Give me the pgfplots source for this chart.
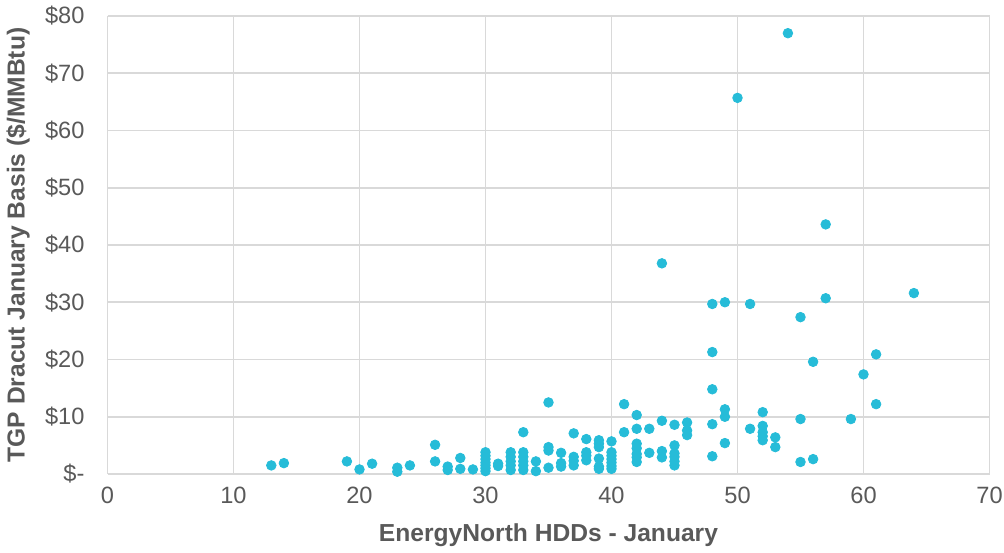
\documentclass[border=0pt]{standalone}
\usepackage{pgfplots}
\pgfplotsset{compat=1.18}
\usepackage{fontspec}
\setmainfont{Liberation Sans}
\definecolor{txtgray}{RGB}{89,89,89}
\definecolor{gridgray}{RGB}{217,217,217}
\definecolor{dotcol}{RGB}{38,188,216}
\begin{document}
\begin{tikzpicture}
\useasboundingbox (-53.75pt,-39pt) rectangle (448.25pt,237pt);
\begin{axis}[
	at={(0,0)}, anchor=south west,
	scale only axis,
	width=441pt, height=229pt,
	xmin=0, xmax=70,
	ymin=0, ymax=80,
	xtick={0,10,...,70},
	ytick={0,10,...,80},
	yticklabels={\$-,\$10,\$20,\$30,\$40,\$50,\$60,\$70,\$80},
	grid=major,
	major grid style={gridgray, line width=0.8pt},
	axis line style={draw=none},
	major tick length=0pt,
	/pgf/number format/assume math mode=true,
	ticklabel style={font=\fontsize{11.8}{13}\selectfont, text=txtgray},
	yticklabel shift=8pt,
	xticklabel shift=3pt,
	xlabel={EnergyNorth HDDs - January},
	ylabel={TGP Dracut January Basis (\$/MMBtu)},
	xlabel style={at={(axis description cs:0.5,-0.1332)}, anchor=center,
		font=\fontsize{12.3}{14}\selectfont\bfseries, text=txtgray},
	ylabel style={at={(axis description cs:-0.1015,0.5)}, anchor=center,
		font=\fontsize{12.3}{14}\selectfont\bfseries, text=txtgray},
]
\addplot[only marks, mark=*, mark size=2.4pt, color=dotcol] coordinates {
	(13,1.5) (14,1.9) (19,2.2) (20,0.8) (21,1.8)
	(23,1.1) (23,0.4) (24,1.5)
	(26,5.1) (26,2.2) (27,1.3) (27,0.7) (28,2.8) (28,0.9) (29,0.8)
	(30,3.8) (30,3.2) (30,2.6) (30,2.0) (30,1.5) (30,1.0) (30,0.5)
	(31,1.8) (31,1.4)
	(32,3.8) (32,3.0) (32,2.2) (32,1.5) (32,0.7)
	(33,7.3) (33,3.8) (33,3.0) (33,2.2) (33,1.5) (33,0.7)
	(34,2.2) (34,0.5)
	(35,12.5) (35,4.7) (35,4.1) (35,1.1)
	(36,3.7) (36,1.9) (36,1.3)
	(37,7.1) (37,3.0) (37,2.3) (37,1.5)
	(38,6.1) (38,3.8) (38,3.2) (38,2.4)
	(39,5.9) (39,5.3) (39,4.7) (39,2.7) (39,1.3) (39,0.9)
	(40,5.7) (40,3.8) (40,3.2) (40,2.6) (40,2.0) (40,1.4) (40,0.9)
	(41,12.2) (41,7.3)
	(42,10.3) (42,7.9) (42,5.3) (42,4.5) (42,3.5) (42,2.9) (42,2.1)
	(43,7.9) (43,3.7)
	(44,36.8) (44,9.3) (44,4.0) (44,2.9)
	(45,8.6) (45,5.0) (45,3.6) (45,3.0) (45,2.2) (45,1.5)
	(46,9.0) (46,7.6) (46,6.8)
	(48,29.7) (48,21.3) (48,14.8) (48,8.7) (48,3.1)
	(49,30.0) (49,11.3) (49,10.0) (49,5.4)
	(50,65.7)
	(51,29.7) (51,7.9)
	(52,10.8) (52,8.4) (52,7.3) (52,6.6) (52,5.9)
	(53,6.4) (53,4.7)
	(54,77.0)
	(55,27.4) (55,9.6) (55,2.1)
	(56,19.6) (56,2.6)
	(57,43.6) (57,30.7)
	(59,9.6) (60,17.4)
	(61,20.9) (61,12.2)
	(64,31.6)
};
\end{axis}
\end{tikzpicture}
\end{document}
